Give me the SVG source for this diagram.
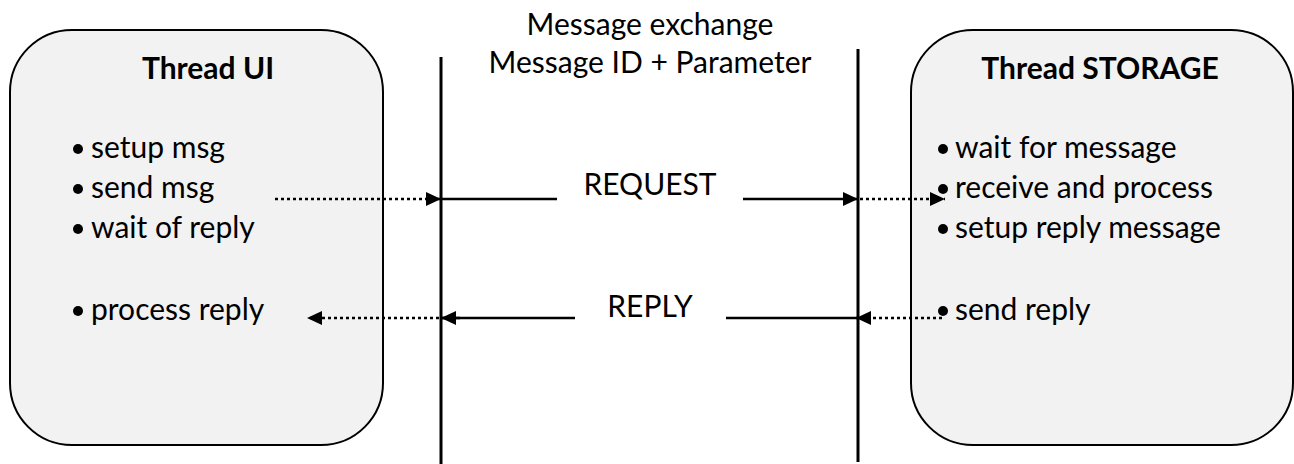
<svg xmlns="http://www.w3.org/2000/svg" width="1294" height="464" viewBox="0 0 1294 464">
<style>
.box{fill:#f2f2f2;stroke:#000;stroke-width:2}
.t{font-family:Lato,"Liberation Sans",sans-serif;font-size:30px;fill:#000}
.b{font-weight:bold}
.life{stroke:#000;stroke-width:3}
.solid{stroke:#000;stroke-width:2.5;fill:none}
.dot{stroke:#000;stroke-width:2.5;stroke-dasharray:3 3;fill:none}
</style>
<defs>
<marker id="a" viewBox="0 0 15 14" refX="15" refY="7" markerWidth="15" markerHeight="14" markerUnits="userSpaceOnUse" orient="auto">
<path d="M0,0 L15,7 L0,14 z" fill="#000"/>
</marker>
</defs>
<rect width="1294" height="464" fill="#fff"/>
<g id="thread-ui">
<rect class="box" x="10" y="30" width="373" height="415" rx="62" ry="62"/>
<text class="t b" x="208" y="79" text-anchor="middle">Thread UI</text>
<g class="t">
<circle cx="78" cy="149" r="5"/><text x="91" y="158">setup msg</text>
<circle cx="78" cy="189" r="5"/><text x="91" y="198">send msg</text>
<circle cx="78" cy="229" r="5"/><text x="91" y="238">wait of reply</text>
<circle cx="78" cy="311" r="5"/><text x="91" y="320">process reply</text>
</g>
</g>
<g id="thread-storage">
<rect class="box" x="911" y="30" width="382" height="415" rx="62" ry="62"/>
<text class="t b" x="1100" y="79" text-anchor="middle">Thread STORAGE</text>
<g class="t">
<circle cx="943" cy="149" r="5"/><text x="955" y="158">wait for message</text>
<circle cx="943" cy="189" r="5"/><text x="955" y="198">receive and process</text>
<circle cx="943" cy="229" r="5"/><text x="955" y="238">setup reply message</text>
<circle cx="943" cy="311" r="5"/><text x="955" y="320">send reply</text>
</g>
</g>
<g id="channel">
<line class="life" x1="441" y1="57" x2="441" y2="464"/>
<line class="life" x1="858" y1="49" x2="858" y2="462"/>
<text class="t" x="650" y="35" text-anchor="middle">Message exchange</text>
<text class="t" x="650" y="73" text-anchor="middle">Message ID + Parameter</text>
<text class="t" x="650" y="195" text-anchor="middle">REQUEST</text>
<text class="t" x="650" y="317" text-anchor="middle">REPLY</text>
</g>
<g id="connectors">
<line class="dot" x1="275" y1="199" x2="441" y2="199" marker-end="url(#a)"/>
<line class="solid" x1="441" y1="199" x2="557" y2="199"/>
<line class="solid" x1="743" y1="199" x2="858" y2="199" marker-end="url(#a)"/>
<line class="dot" x1="860" y1="199" x2="945" y2="199" marker-end="url(#a)"/>
<line class="dot" x1="942" y1="318" x2="856" y2="318" marker-end="url(#a)"/>
<line class="solid" x1="858" y1="318" x2="726" y2="318"/>
<line class="solid" x1="575" y1="318" x2="441" y2="318"/>
<line class="solid" x1="460" y1="318" x2="441" y2="318" marker-end="url(#a)"/>
<line class="dot" x1="439" y1="318" x2="307" y2="318" marker-end="url(#a)"/>
</g>
</svg>
